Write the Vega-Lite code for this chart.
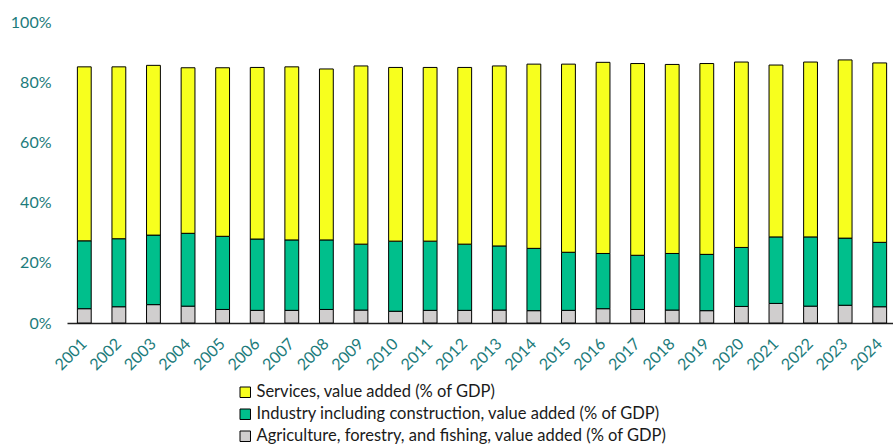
{
  "$schema": "https://vega.github.io/schema/vega-lite/v6.json",
  "width": 830,
  "height": 301,
  "autosize": "none",
  "padding": {"left": 67, "top": 22, "right": 0, "bottom": 125},
  "background": "white",
  "config": {"view": {"stroke": null}, "font": "Lato"},
  "datasets": {
    "shares": [
      {"year": "2001", "Agriculture": 4.75, "Industry": 22.55, "Services": 57.8},
      {"year": "2002", "Agriculture": 5.4, "Industry": 22.6, "Services": 57.1},
      {"year": "2003", "Agriculture": 6.1, "Industry": 23.1, "Services": 56.4},
      {"year": "2004", "Agriculture": 5.6, "Industry": 24.2, "Services": 55.0},
      {"year": "2005", "Agriculture": 4.5, "Industry": 24.3, "Services": 56.0},
      {"year": "2006", "Agriculture": 4.2, "Industry": 23.7, "Services": 57.0},
      {"year": "2007", "Agriculture": 4.2, "Industry": 23.4, "Services": 57.5},
      {"year": "2008", "Agriculture": 4.5, "Industry": 23.1, "Services": 56.8},
      {"year": "2009", "Agriculture": 4.3, "Industry": 21.9, "Services": 59.2},
      {"year": "2010", "Agriculture": 3.9, "Industry": 23.3, "Services": 57.7},
      {"year": "2011", "Agriculture": 4.2, "Industry": 23.0, "Services": 57.7},
      {"year": "2012", "Agriculture": 4.2, "Industry": 22.0, "Services": 58.7},
      {"year": "2013", "Agriculture": 4.3, "Industry": 21.3, "Services": 59.8},
      {"year": "2014", "Agriculture": 4.1, "Industry": 20.7, "Services": 61.2},
      {"year": "2015", "Agriculture": 4.2, "Industry": 19.3, "Services": 62.5},
      {"year": "2016", "Agriculture": 4.75, "Industry": 18.35, "Services": 63.5},
      {"year": "2017", "Agriculture": 4.5, "Industry": 18.0, "Services": 63.7},
      {"year": "2018", "Agriculture": 4.3, "Industry": 18.8, "Services": 62.8},
      {"year": "2019", "Agriculture": 4.1, "Industry": 18.7, "Services": 63.4},
      {"year": "2020", "Agriculture": 5.5, "Industry": 19.6, "Services": 61.6},
      {"year": "2021", "Agriculture": 6.5, "Industry": 22.1, "Services": 57.1},
      {"year": "2022", "Agriculture": 5.6, "Industry": 23.0, "Services": 58.1},
      {"year": "2023", "Agriculture": 5.9, "Industry": 22.3, "Services": 59.2},
      {"year": "2024", "Agriculture": 5.4, "Industry": 21.4, "Services": 59.6}
    ]
  },
  "data": {"name": "shares"},
  "transform": [
    {"fold": ["Agriculture", "Industry", "Services"], "as": ["key", "value"]},
    {"calculate": "datum.key === 'Services' ? 'Services, value added (% of GDP)' : datum.key === 'Industry' ? 'Industry including construction, value added (% of GDP)' : 'Agriculture, forestry, and fishing, value added (% of GDP)'", "as": "sector"},
    {"calculate": "datum.key === 'Agriculture' ? 0 : datum.key === 'Industry' ? 1 : 2", "as": "stackOrder"}
  ],
  "mark": {"type": "bar", "stroke": "#000000", "strokeWidth": 1},
  "encoding": {
    "x": {
      "field": "year",
      "type": "ordinal",
      "scale": {"paddingInner": 0.6, "paddingOuter": 0.3},
      "axis": {
        "title": null,
        "labelAngle": -45,
        "labelAlign": "right",
        "labelBaseline": "middle",
        "labelColor": "#1C7B7B",
        "labelFontSize": 16,
        "labelPadding": 18,
        "ticks": false,
        "domainColor": "#222222",
        "domainWidth": 1.5
      }
    },
    "y": {
      "field": "value",
      "type": "quantitative",
      "stack": "zero",
      "scale": {"domain": [0, 100], "nice": false},
      "axis": {
        "title": null,
        "values": [0, 20, 40, 60, 80, 100],
        "labelExpr": "datum.value + '%'",
        "labelColor": "#1C7B7B",
        "labelFontSize": 16,
        "labelPadding": 16,
        "grid": false,
        "domain": false,
        "ticks": false
      }
    },
    "color": {
      "field": "sector",
      "type": "nominal",
      "scale": {
        "domain": ["Services, value added (% of GDP)", "Industry including construction, value added (% of GDP)", "Agriculture, forestry, and fishing, value added (% of GDP)"],
        "range": ["#F7FF1E", "#00BF8C", "#D0CECE"]
      },
      "legend": {
        "title": null,
        "orient": "none",
        "legendX": 170,
        "legendY": 362,
        "direction": "vertical",
        "symbolType": "square",
        "symbolSize": 110,
        "symbolStrokeColor": "#000000",
        "symbolStrokeWidth": 1,
        "labelFontSize": 16.5,
        "labelColor": "#1a1a1a",
        "rowPadding": 5,
        "labelOffset": 3,
        "labelLimit": 600
      }
    },
    "order": {"field": "stackOrder", "type": "quantitative"}
  }
}
